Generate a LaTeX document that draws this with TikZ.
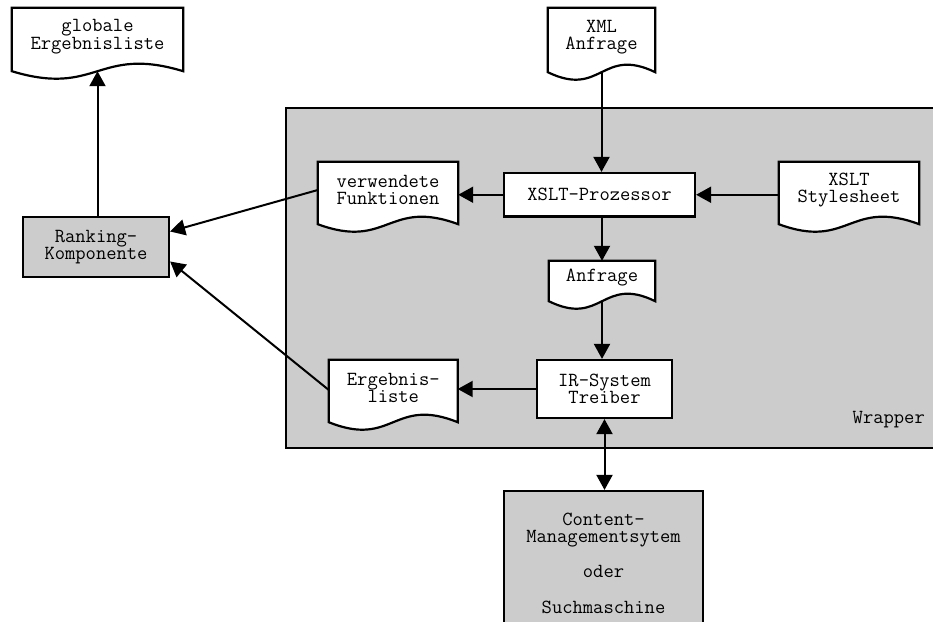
\documentclass[tikz,border=0pt]{standalone}
\usetikzlibrary{arrows.meta,calc}
\definecolor{boxgray}{RGB}{204,204,204}
\pgfdeclarelayer{bg}
\pgfdeclarelayer{docs}
\pgfsetlayers{bg,docs,main}
\newcommand{\docshape}[1]{%
  \begin{pgfonlayer}{docs}
  \draw[docline] (#1.north west) -- (#1.north east) -- ($(#1.south east)+(0,6)$)
    .. controls ($(#1.south)+(0,-20)$) and ($(#1.south)+(0,32)$) .. ($(#1.south west)+(0,6)$) -- cycle;
  \end{pgfonlayer}}
\tikzset{
  txt/.style={font=\ttfamily\fontsize{20}{17.6}\selectfont, align=center, inner sep=0pt},
  docnode/.style={txt},
  docline/.style={draw=black, fill=white, line width=2.2pt, line join=miter},
  procbox/.style={txt, draw=black, fill=white, line width=2.2pt},
  graybox/.style={txt, draw=black, fill=boxgray, line width=2.2pt},
  conn/.style={line width=2pt, -{Triangle[length=15pt,width=16pt]}},
  dconn/.style={line width=2pt, {Triangle[length=15pt,width=16pt]}-{Triangle[length=15pt,width=16pt]}},
}
\begin{document}
\begin{tikzpicture}[x=1pt,y=-1pt]
\useasboundingbox (0,0) rectangle (933,621);
\clip (0,0) rectangle (933,621);
% wrapper
\begin{pgfonlayer}{bg}
\node[draw=black, fill=boxgray, line width=2.2pt, anchor=north west, minimum width=700pt, minimum height=340pt, inner sep=0pt] (wrap) at (285,106.5) {};
\end{pgfonlayer}
\node[txt, anchor=east] (wraplabel) at (925,420) {Wrapper};

% documents
\node[docnode, minimum width=171pt, minimum height=57pt] (glob) at (97.5,36.5) {globale\\Ergebnisliste};
\docshape{glob}
\node[docnode, minimum width=107pt, minimum height=58pt] (xml) at (601.5,37) {XML\\Anfrage};
\docshape{xml}
\node[docnode, minimum width=140pt, minimum height=56pt] (verw) at (388,190) {verwendete\\Funktionen};
\docshape{verw}
\node[docnode, minimum width=140pt, minimum height=56pt] (style) at (849,190) {XSLT\\Stylesheet};
\docshape{style}
\node[docnode, minimum width=106pt, minimum height=34pt] (anfr) at (602,278) {Anfrage};
\docshape{anfr}
\node[docnode, minimum width=128.5pt, minimum height=56pt] (erg) at (393.25,388) {Ergebnis-\\liste};
\docshape{erg}

% boxes
\node[procbox, minimum width=191pt, minimum height=43.5pt] (xslt) at (599.5,194.75) {XSLT-Prozessor};
\node[procbox, minimum width=135pt, minimum height=58pt] (ir) at (604.5,389) {IR-System\\Treiber};
\node[graybox, minimum width=146pt, minimum height=60pt] (rank) at (96,247) {Ranking-\\Komponente};
\node[graybox, minimum width=199pt, minimum height=144pt] (cms) at (603.5,563) {Content-\\Managementsytem\\[17.6pt]oder\\[17.6pt]Suchmaschine};

% connectors
\draw[conn] (glob.south |- rank.north) -- ($(glob.south)+(0,6)$);
\draw[conn] ($(xml.south)+(0,6)$) -- (xml.south |- xslt.north);
\draw[conn] (xslt.west) -- (xslt.west -| verw.east);
\draw[conn] (style.west |- xslt.east) -- (xslt.east);
\draw[conn] (anfr.north |- xslt.south) -- (anfr.north);
\draw[conn] ($(anfr.south)+(0,6)$) -- (anfr.south |- ir.north);
\draw[conn] (ir.west) -- (ir.west -| erg.east);
\draw[dconn] (ir.south) -- (ir.south |- cms.north);
\draw[conn] (verw.west) -- ([yshift=15.5pt]rank.east);
\draw[conn] ($(erg.west)+(0,2)$) -- ([yshift=-14.5pt]rank.east);
\end{tikzpicture}
\end{document}
